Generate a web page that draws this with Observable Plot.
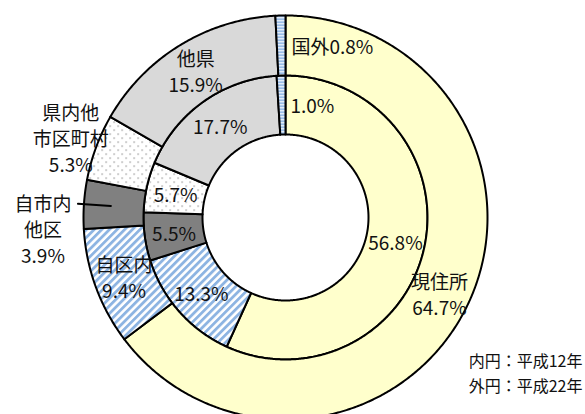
<!DOCTYPE html>
<html><head><meta charset="utf-8">
<script src="https://cdn.jsdelivr.net/npm/d3@7"></script>
<script src="https://cdn.jsdelivr.net/npm/@observablehq/plot@0.6"></script>
<style>body{margin:0;background:#fff}</style>
</head><body><div id="chart"></div>
<script>
// ---- data ----
const categories = ["現住所", "自区内", "自市内他区", "県内他市区町村", "他県", "国外"];
const categoryLabels = ["現住所", "自区内", "自市内\n他区", "県内他\n市区町村", "他県", "国外"];
const innerValues = [56.8, 13.3, 5.5, 5.7, 17.7, 1.0];   // 内円：平成12年
const outerValues = [64.7, 9.4, 3.9, 5.3, 15.9, 0.8];    // 外円：平成22年
const legendLines = ["内円：平成12年", "外円：平成22年"];

// ---- styles / layout ----
const fills = ["#FFFFCC", "url(#hatch)", "#808080", "url(#dots)", "#D9D9D9", "url(#hstripe)"];
const W = 585, H = 414;
const cx = 285, cy = 217, R0 = 83, R1 = 142, R2 = 202;
const FONT = "Noto Sans CJK JP";

const pol = (a, r) => ({x: cx + r * Math.sin(a), y: cy - r * Math.cos(a)});

function ring(values, rIn, rOut) {
  const total = d3.sum(values);
  let acc = 0;
  return values.map((v, i) => {
    const a0 = acc / total * 2 * Math.PI; acc += v;
    const a1 = acc / total * 2 * Math.PI;
    const n = Math.max(2, Math.ceil((a1 - a0) * 180 / Math.PI * 2));
    const pts = [];
    for (let k = 0; k <= n; k++) pts.push(pol(a0 + (a1 - a0) * k / n, rOut));
    for (let k = n; k >= 0; k--) pts.push(pol(a0 + (a1 - a0) * k / n, rIn));
    pts.push(pts[0]);
    return {i, value: v, mid: (a0 + a1) / 2, pts};
  });
}

const inner = ring(innerValues, R0, R1);
const outer = ring(outerValues, R1, R2);
const pct = v => v.toFixed(1) + "%";

// label positions derived from slice mid-angles
const texts = [];
inner.forEach(s => {
  if (s.i === 5) { const p = pol(0, (R0 + R1) / 2); texts.push({x: cx + 5, y: p.y, t: pct(s.value), anchor: "start"}); }
  else { const p = pol(s.mid, (R0 + R1) / 2); texts.push({x: p.x, y: p.y, t: pct(s.value), anchor: "middle"}); }
});
let leader = [];
outer.forEach(s => {
  const name = categoryLabels[s.i];
  if (s.i === 5) { const p = pol(0, (R1 + R2) / 2); texts.push({x: cx + 6, y: p.y, t: name + pct(s.value), anchor: "start"}); }
  else if (s.i === 2) {
    const a = pol(s.mid, (R1 + R2) / 2 + 3), b = pol(s.mid, R2 + 6);
    leader = [a, b];
    texts.push({x: b.x - 35, y: b.y + 25, t: name + "\n" + pct(s.value), anchor: "middle"});
  }
  else if (s.i === 3) { const p = pol(s.mid, R2 + 27); texts.push({x: p.x, y: p.y, t: name + "\n" + pct(s.value), anchor: "middle"}); }
  else { const p = pol(s.mid, (R1 + R2) / 2); texts.push({x: p.x, y: p.y, t: name + "\n" + pct(s.value), anchor: "middle"}); }
});

const startT = texts.filter(d => d.anchor === "start"), midT = texts.filter(d => d.anchor === "middle");
const textStyle = {x: "x", y: "y", text: "t", fontSize: 19, lineHeight: 1.37, fill: "#111", fontFamily: FONT};

const marks = [
  ...inner.map(s => Plot.line(s.pts, {x: "x", y: "y", fill: fills[s.i], stroke: "black", strokeWidth: 2, strokeLinejoin: "round"})),
  ...outer.map(s => Plot.line(s.pts, {x: "x", y: "y", fill: fills[s.i], stroke: "black", strokeWidth: 2, strokeLinejoin: "round"})),
  Plot.line(leader, {x: "x", y: "y", stroke: "black", strokeWidth: 2}),
  Plot.text(midT, {...textStyle, textAnchor: "middle"}),
  Plot.text(startT, {...textStyle, textAnchor: "start"}),
  Plot.text([legendLines.join("\n")], {frameAnchor: "bottom-right", text: d => d, textAnchor: "end", lineAnchor: "bottom", dx: -3, dy: -23, fontSize: 16, lineHeight: 1.56, fill: "#111", fontFamily: FONT})
];

const svg = Plot.plot({
  width: W, height: H, margin: 0,
  x: {domain: [0, W], range: [0, W], axis: null},
  y: {domain: [0, H], range: [0, H], axis: null},
  style: {background: "white", fontFamily: FONT, overflow: "hidden"},
  marks
});
svg.insertAdjacentHTML("afterbegin", `<defs>
<pattern id="hatch" patternUnits="userSpaceOnUse" width="5.4" height="5.4" patternTransform="rotate(45)"><rect width="5.4" height="5.4" fill="#fff"/><rect width="2.8" height="5.4" fill="#8DB4E2"/></pattern>
<pattern id="dots" patternUnits="userSpaceOnUse" width="8" height="8"><rect width="8" height="8" fill="#fff"/><rect x="1" y="1" width="1.2" height="1.2" fill="#777"/><rect x="5" y="5" width="1.2" height="1.2" fill="#777"/></pattern>
<pattern id="hstripe" patternUnits="userSpaceOnUse" width="4" height="3"><rect width="4" height="3" fill="#fff"/><rect width="4" height="1.4" fill="#6FA0DC"/></pattern>
</defs>`);
document.getElementById("chart").appendChild(svg);
</script></body></html>
